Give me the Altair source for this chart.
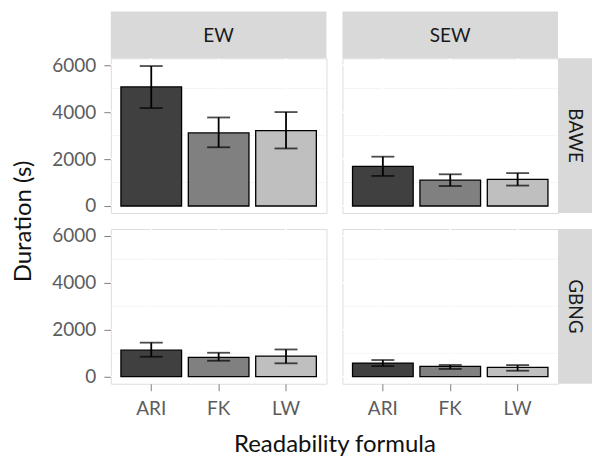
import altair as alt
import pandas as pd

formulas = ["ARI", "FK", "LW"]
corpora = ["EW", "SEW"]
datasets = ["BAWE", "GBNG"]

# mean duration (s) per formula, for each corpus / dataset
ew_bawe_mean = [5070, 3110, 3210]
ew_bawe_lo = [4170, 2500, 2450]
ew_bawe_hi = [5960, 3770, 4000]

sew_bawe_mean = [1690, 1100, 1130]
sew_bawe_lo = [1280, 850, 870]
sew_bawe_hi = [2100, 1350, 1400]

ew_gbng_mean = [1130, 820, 880]
ew_gbng_lo = [850, 680, 570]
ew_gbng_hi = [1450, 1020, 1160]

sew_gbng_mean = [580, 440, 395]
sew_gbng_lo = [450, 330, 255]
sew_gbng_hi = [710, 500, 495]

y_ticks = [0, 2000, 4000, 6000]
y_minor = [1000, 3000, 5000]

series = {
    ("EW", "BAWE"): (ew_bawe_mean, ew_bawe_lo, ew_bawe_hi),
    ("SEW", "BAWE"): (sew_bawe_mean, sew_bawe_lo, sew_bawe_hi),
    ("EW", "GBNG"): (ew_gbng_mean, ew_gbng_lo, ew_gbng_hi),
    ("SEW", "GBNG"): (sew_gbng_mean, sew_gbng_lo, sew_gbng_hi),
}

rows = []
for (c, d), (m, lo, hi) in series.items():
    for f, mv, l, h in zip(formulas, m, lo, hi):
        rows.append({"corpus": c, "dataset": d, "formula": f, "mean": mv, "lo": l, "hi": h})
df = pd.DataFrame(rows)

W, H = 216, 155
STRIP_T = 47
STRIP_R = 34
FILLS = ["#404040", "#808080", "#bfbfbf"]
FONT = "Lato"
YDOM = [-300, 6290]

yscale = alt.Scale(domain=YDOM, nice=False, zero=False)
xscale = alt.Scale(domain=formulas, paddingInner=0.1, paddingOuter=0.15)


def panel(corpus, dataset, left, bottom, top, right):
    sub = df[(df.corpus == corpus) & (df.dataset == dataset)]

    if bottom:
        xaxis = alt.Axis(
            title="Readability formula" if left else None,
            labelAngle=0, labelFontSize=19, labelColor="#5c5c5c", labelFont=FONT,
            tickColor="#808080", tickSize=7, tickWidth=1, labelPadding=9,
            domain=False, grid=False, bandPosition=0.5,
            titleFontSize=24, titleFont=FONT, titleFontWeight="normal", titleColor="#111111",
            titleX=(2 * W + 16) / 2, titleY=68, titleAlign="center", titleBaseline="alphabetic",
        )
    else:
        xaxis = None

    if left:
        yaxis = alt.Axis(
            title="Duration (s)" if top else None,
            values=y_ticks, format="d", labelFontSize=19, labelColor="#5c5c5c", labelFont=FONT,
            tickColor="#808080", tickSize=7, tickWidth=1, labelPadding=8,
            domain=False, grid=False,
            titleFontSize=24, titleFont=FONT, titleFontWeight="normal", titleColor="#111111",
            titleX=-80, titleY=H + 8, titleAlign="center", titleBaseline="alphabetic", titleAngle=-90,
        )
    else:
        yaxis = None

    minor = alt.Chart(pd.DataFrame({"v": y_minor})).mark_rule(
        color="#f4f4f4", strokeWidth=0.9
    ).encode(y=alt.Y("v:Q", scale=yscale, axis=yaxis))

    major_h = alt.Chart(pd.DataFrame({"v": y_ticks})).mark_rule(
        color="white", strokeWidth=1.7
    ).encode(y=alt.Y("v:Q", scale=yscale))

    major_v = alt.Chart(pd.DataFrame({"formula": formulas})).mark_rule(
        color="white", strokeWidth=1.7
    ).encode(x=alt.X("formula:N", scale=xscale, sort=formulas, axis=xaxis))

    base = alt.Chart(sub)
    xs = alt.X("formula:N", scale=xscale, sort=formulas)
    bars = base.mark_bar(stroke="black", strokeWidth=1.3).encode(
        x=xs,
        y=alt.Y("mean:Q", scale=yscale),
        color=alt.Color("formula:N", scale=alt.Scale(domain=formulas, range=FILLS), legend=None),
    )
    err = base.mark_rule(color="black", strokeWidth=1.8).encode(
        x=xs, y=alt.Y("lo:Q", scale=yscale), y2="hi:Q",
    )
    cap_lo = base.mark_tick(color="black", thickness=1.8, size=23).encode(
        x=xs, y=alt.Y("lo:Q", scale=yscale))
    cap_hi = base.mark_tick(color="black", thickness=1.8, size=23).encode(
        x=xs, y=alt.Y("hi:Q", scale=yscale))

    layers = [minor, major_h, major_v, bars, err, cap_lo, cap_hi]

    if top:
        sd = alt.Chart(pd.DataFrame({"t": [corpus]}))
        layers.append(sd.mark_rect(fill="#d9d9d9").encode(
            x=alt.value(0), x2=alt.value(W), y=alt.value(-STRIP_T), y2=alt.value(0)))
        layers.append(sd.mark_text(font=FONT, fontSize=19, color="#1a1a1a", baseline="middle").encode(
            x=alt.value(W / 2), y=alt.value(-STRIP_T / 2 + 1), text="t:N"))
    if right:
        rd = alt.Chart(pd.DataFrame({"t": [dataset]}))
        layers.append(rd.mark_rect(fill="#d9d9d9").encode(
            x=alt.value(W), x2=alt.value(W + STRIP_R), y=alt.value(0), y2=alt.value(H)))
        layers.append(rd.mark_text(font=FONT, fontSize=19, color="#1a1a1a", baseline="middle",
                                   angle=90).encode(
            x=alt.value(W + STRIP_R / 2), y=alt.value(H / 2), text="t:N"))

    return alt.layer(*layers).properties(width=W, height=H)


p11 = panel("EW", "BAWE", left=True, bottom=False, top=True, right=False)
p12 = panel("SEW", "BAWE", left=False, bottom=False, top=True, right=True)
p21 = panel("EW", "GBNG", left=True, bottom=True, top=False, right=False)
p22 = panel("SEW", "GBNG", left=False, bottom=True, top=False, right=True)

chart = alt.concat(p11, p12, p21, p22, columns=2, spacing=16, bounds="flush").properties(
    padding={"left": 3, "top": 2, "right": 0, "bottom": 0}
).configure_view(fill="#ebebeb", stroke=None).configure(background="white")

chart.save("out.html", embed_options={"renderer": "svg", "actions": False})
